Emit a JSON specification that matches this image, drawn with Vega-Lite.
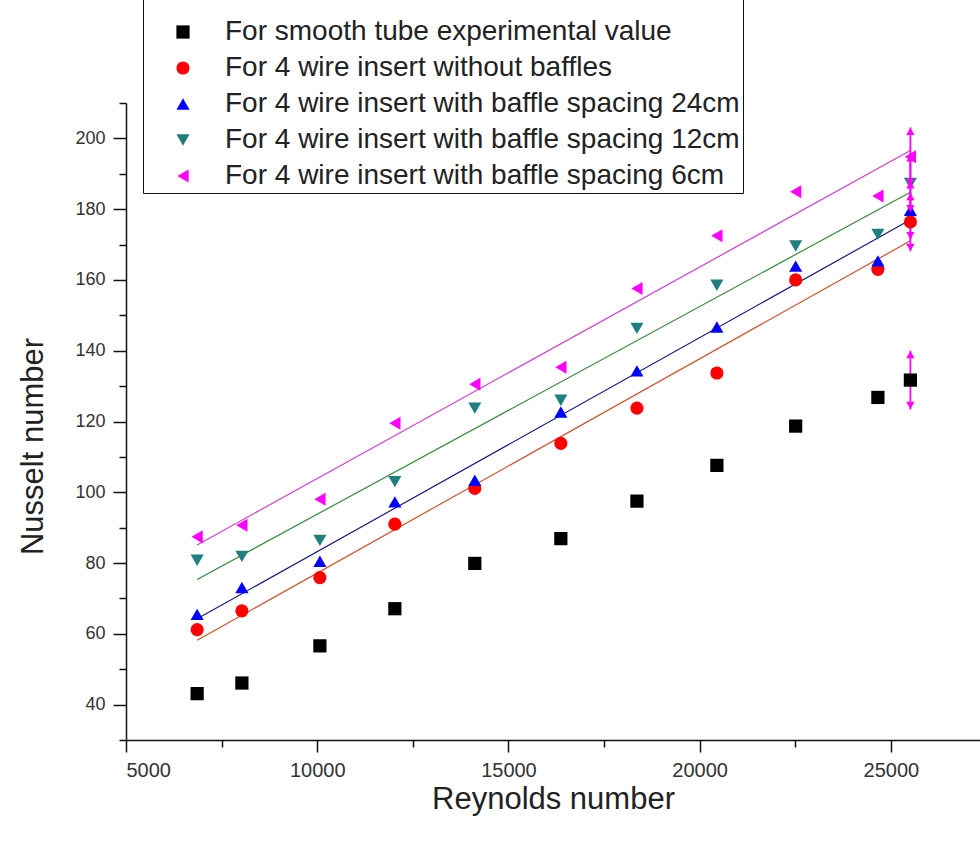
{
  "$schema": "https://vega.github.io/schema/vega-lite/v6.json",
  "width": 854,
  "height": 637,
  "autosize": {"type": "none"},
  "padding": {"left": 126, "top": 103, "right": 0, "bottom": 102},
  "background": "white",
  "config": {
    "view": {"stroke": null},
    "font": "Liberation Sans",
    "axis": {
      "domainColor": "#111",
      "domainWidth": 1.5,
      "tickColor": "#111",
      "tickWidth": 1.5,
      "grid": false,
      "labelFont": "Liberation Sans",
      "labelColor": "#333",
      "titleFont": "Liberation Sans",
      "titleFontWeight": "normal",
      "titleColor": "#222"
    }
  },
  "datasets": {
    "pts": [
      {"series": "For smooth tube experimental value", "Re": 6860, "Nu": 43.1},
      {"series": "For smooth tube experimental value", "Re": 8030, "Nu": 46.1},
      {"series": "For smooth tube experimental value", "Re": 10070, "Nu": 56.6},
      {"series": "For smooth tube experimental value", "Re": 12030, "Nu": 67.1},
      {"series": "For smooth tube experimental value", "Re": 14120, "Nu": 79.9},
      {"series": "For smooth tube experimental value", "Re": 16370, "Nu": 86.9},
      {"series": "For smooth tube experimental value", "Re": 18360, "Nu": 97.5},
      {"series": "For smooth tube experimental value", "Re": 20450, "Nu": 107.6},
      {"series": "For smooth tube experimental value", "Re": 22510, "Nu": 118.7},
      {"series": "For smooth tube experimental value", "Re": 24660, "Nu": 126.8},
      {"series": "For smooth tube experimental value", "Re": 25510, "Nu": 131.7},
      {"series": "For 4 wire insert without baffles", "Re": 6860, "Nu": 61.2},
      {"series": "For 4 wire insert without baffles", "Re": 8030, "Nu": 66.5},
      {"series": "For 4 wire insert without baffles", "Re": 10070, "Nu": 75.9},
      {"series": "For 4 wire insert without baffles", "Re": 12030, "Nu": 91.0},
      {"series": "For 4 wire insert without baffles", "Re": 14120, "Nu": 101.1},
      {"series": "For 4 wire insert without baffles", "Re": 16370, "Nu": 113.8},
      {"series": "For 4 wire insert without baffles", "Re": 18360, "Nu": 123.8},
      {"series": "For 4 wire insert without baffles", "Re": 20450, "Nu": 133.7},
      {"series": "For 4 wire insert without baffles", "Re": 22510, "Nu": 160.0},
      {"series": "For 4 wire insert without baffles", "Re": 24660, "Nu": 163.0},
      {"series": "For 4 wire insert without baffles", "Re": 25510, "Nu": 176.4},
      {"series": "For 4 wire insert with baffle spacing 24cm", "Re": 6860, "Nu": 65.5},
      {"series": "For 4 wire insert with baffle spacing 24cm", "Re": 8030, "Nu": 73.1},
      {"series": "For 4 wire insert with baffle spacing 24cm", "Re": 10070, "Nu": 80.5},
      {"series": "For 4 wire insert with baffle spacing 24cm", "Re": 12030, "Nu": 97.3},
      {"series": "For 4 wire insert with baffle spacing 24cm", "Re": 14120, "Nu": 103.4},
      {"series": "For 4 wire insert with baffle spacing 24cm", "Re": 16370, "Nu": 122.7},
      {"series": "For 4 wire insert with baffle spacing 24cm", "Re": 18360, "Nu": 134.3},
      {"series": "For 4 wire insert with baffle spacing 24cm", "Re": 20450, "Nu": 146.7},
      {"series": "For 4 wire insert with baffle spacing 24cm", "Re": 22510, "Nu": 163.9},
      {"series": "For 4 wire insert with baffle spacing 24cm", "Re": 24660, "Nu": 165.4},
      {"series": "For 4 wire insert with baffle spacing 24cm", "Re": 25510, "Nu": 179.7},
      {"series": "For 4 wire insert with baffle spacing 12cm", "Re": 6860, "Nu": 80.8},
      {"series": "For 4 wire insert with baffle spacing 12cm", "Re": 8030, "Nu": 81.9},
      {"series": "For 4 wire insert with baffle spacing 12cm", "Re": 10070, "Nu": 86.4},
      {"series": "For 4 wire insert with baffle spacing 12cm", "Re": 12030, "Nu": 103.0},
      {"series": "For 4 wire insert with baffle spacing 12cm", "Re": 14120, "Nu": 123.8},
      {"series": "For 4 wire insert with baffle spacing 12cm", "Re": 16370, "Nu": 126.0},
      {"series": "For 4 wire insert with baffle spacing 12cm", "Re": 18360, "Nu": 146.3},
      {"series": "For 4 wire insert with baffle spacing 12cm", "Re": 20450, "Nu": 158.5},
      {"series": "For 4 wire insert with baffle spacing 12cm", "Re": 22510, "Nu": 169.6},
      {"series": "For 4 wire insert with baffle spacing 12cm", "Re": 24660, "Nu": 172.9},
      {"series": "For 4 wire insert with baffle spacing 12cm", "Re": 25510, "Nu": 187.3},
      {"series": "For 4 wire insert with baffle spacing 6cm", "Re": 6860, "Nu": 87.4},
      {"series": "For 4 wire insert with baffle spacing 6cm", "Re": 8030, "Nu": 90.7},
      {"series": "For 4 wire insert with baffle spacing 6cm", "Re": 10070, "Nu": 98.0},
      {"series": "For 4 wire insert with baffle spacing 6cm", "Re": 12030, "Nu": 119.5},
      {"series": "For 4 wire insert with baffle spacing 6cm", "Re": 14120, "Nu": 130.5},
      {"series": "For 4 wire insert with baffle spacing 6cm", "Re": 16370, "Nu": 135.3},
      {"series": "For 4 wire insert with baffle spacing 6cm", "Re": 18360, "Nu": 157.6},
      {"series": "For 4 wire insert with baffle spacing 6cm", "Re": 20450, "Nu": 172.5},
      {"series": "For 4 wire insert with baffle spacing 6cm", "Re": 22510, "Nu": 184.9},
      {"series": "For 4 wire insert with baffle spacing 6cm", "Re": 24660, "Nu": 183.7},
      {"series": "For 4 wire insert with baffle spacing 6cm", "Re": 25510, "Nu": 194.8}
    ],
    "err": [
      {"series": "S0", "Re": 25510, "lo": 123.4, "hi": 140.0},
      {"series": "S1", "Re": 25510, "lo": 168.1, "hi": 184.7},
      {"series": "S2", "Re": 25510, "lo": 171.4, "hi": 188.0},
      {"series": "S3", "Re": 25510, "lo": 179.0, "hi": 195.6},
      {"series": "S4", "Re": 25510, "lo": 186.5, "hi": 203.1}
    ]
  },
  "resolve": {"axis": {"x": "independent", "y": "independent"}},
  "layer": [
    {
      "data": {"name": "err"},
      "mark": {"type": "rule", "opacity": 0},
      "encoding": {
        "x": {
          "field": "Re", "type": "quantitative",
          "scale": {"domain": [5000, 27330], "nice": false, "zero": false},
          "axis": {"orient": "bottom", "values": [7500, 12500, 17500, 22500], "labels": false, "domain": false, "tickSize": 7, "title": null}
        },
        "y": {
          "field": "lo", "type": "quantitative",
          "scale": {"domain": [30, 210], "nice": false, "zero": false},
          "axis": {"orient": "left", "values": [30, 50, 70, 90, 110, 130, 150, 170, 190, 210], "labels": false, "domain": false, "tickSize": 7, "title": null}
        }
      }
    },
    {
      "data": {"name": "pts"},
      "transform": [
        {"filter": "datum.series !== 'For smooth tube experimental value'"},
        {"regression": "Nu", "on": "Re", "groupby": ["series"]}
      ],
      "mark": {"type": "line", "strokeWidth": 1.2},
      "encoding": {
        "x": {
          "field": "Re", "type": "quantitative",
          "title": "Reynolds number",
          "axis": {"orient": "bottom", "values": [5000, 10000, 15000, 20000, 25000], "format": "d", "tickSize": 12, "labelFontSize": 20, "labelPadding": 8, "titleFontSize": 31, "titlePadding": 4}
        },
        "y": {
          "field": "Nu", "type": "quantitative",
          "title": "Nusselt number",
          "axis": {"orient": "left", "values": [40, 60, 80, 100, 120, 140, 160, 180, 200], "tickSize": 13, "labelFontSize": 18, "labelPadding": 8, "titleFontSize": 31, "titlePadding": 25, "titleY": 343}
        },
        "stroke": {
          "field": "series", "type": "nominal", "legend": null,
          "scale": {
            "domain": ["For 4 wire insert without baffles", "For 4 wire insert with baffle spacing 24cm", "For 4 wire insert with baffle spacing 12cm", "For 4 wire insert with baffle spacing 6cm"],
            "range": ["#d0502a", "#1a1a80", "#3a8a3a", "#d040d0"]
          }
        }
      }
    },
    {
      "data": {"name": "err"},
      "mark": {"type": "rule", "color": "#ff00ff", "strokeWidth": 1.8},
      "encoding": {
        "x": {"field": "Re", "type": "quantitative", "axis": null},
        "y": {"field": "lo", "type": "quantitative", "axis": null},
        "y2": {"field": "hi"}
      }
    },
    {
      "data": {"name": "pts"},
      "mark": {"type": "point", "filled": true, "opacity": 1},
      "encoding": {
        "x": {"field": "Re", "type": "quantitative", "axis": null},
        "y": {"field": "Nu", "type": "quantitative", "axis": null},
        "size": {
          "field": "series", "type": "ordinal", "legend": null,
          "scale": {
            "domain": ["For smooth tube experimental value", "For 4 wire insert without baffles", "For 4 wire insert with baffle spacing 24cm", "For 4 wire insert with baffle spacing 12cm", "For 4 wire insert with baffle spacing 6cm"],
            "range": [175, 170, 240, 240, 240]
          }
        },
        "color": {
          "field": "series", "type": "nominal",
          "scale": {
            "domain": ["For smooth tube experimental value", "For 4 wire insert without baffles", "For 4 wire insert with baffle spacing 24cm", "For 4 wire insert with baffle spacing 12cm", "For 4 wire insert with baffle spacing 6cm"],
            "range": ["#000000", "#ff0000", "#0000ff", "#1f7f7f", "#ff00ff"]
          },
          "legend": {
            "orient": "none", "legendX": 17, "legendY": -121,
            "title": "x", "titleColor": "transparent", "titleFontSize": 24, "titlePadding": 9,
            "padding": 3, "strokeColor": "#111", "fillColor": "white",
            "labelFontSize": 28, "labelFont": "Liberation Sans", "labelColor": "#222", "labelLimit": 0,
            "symbolSize": 190, "rowPadding": 8, "symbolOffset": 23, "labelOffset": 28
          }
        },
        "shape": {
          "field": "series", "type": "nominal",
          "scale": {
            "domain": ["For smooth tube experimental value", "For 4 wire insert without baffles", "For 4 wire insert with baffle spacing 24cm", "For 4 wire insert with baffle spacing 12cm", "For 4 wire insert with baffle spacing 6cm"],
            "range": ["square", "circle", "triangle-up", "triangle-down", "triangle-left"]
          },
          "legend": {
            "orient": "none", "legendX": 17, "legendY": -121,
            "title": "x", "titleColor": "transparent", "titleFontSize": 24, "titlePadding": 9,
            "padding": 3, "strokeColor": "#111", "fillColor": "white",
            "labelFontSize": 28, "labelFont": "Liberation Sans", "labelColor": "#222", "labelLimit": 0,
            "symbolSize": 190, "rowPadding": 8, "symbolOffset": 23, "labelOffset": 28
          }
        }
      }
    },
    {
      "data": {"name": "err"},
      "mark": {"type": "point", "shape": "triangle-up", "filled": true, "color": "#ff00ff", "opacity": 1, "size": 70, "yOffset": 4},
      "encoding": {
        "x": {"field": "Re", "type": "quantitative", "axis": null},
        "y": {"field": "hi", "type": "quantitative", "axis": null}
      }
    },
    {
      "data": {"name": "err"},
      "mark": {"type": "point", "shape": "triangle-down", "filled": true, "color": "#ff00ff", "opacity": 1, "size": 70, "yOffset": -4},
      "encoding": {
        "x": {"field": "Re", "type": "quantitative", "axis": null},
        "y": {"field": "lo", "type": "quantitative", "axis": null}
      }
    }
  ]
}
